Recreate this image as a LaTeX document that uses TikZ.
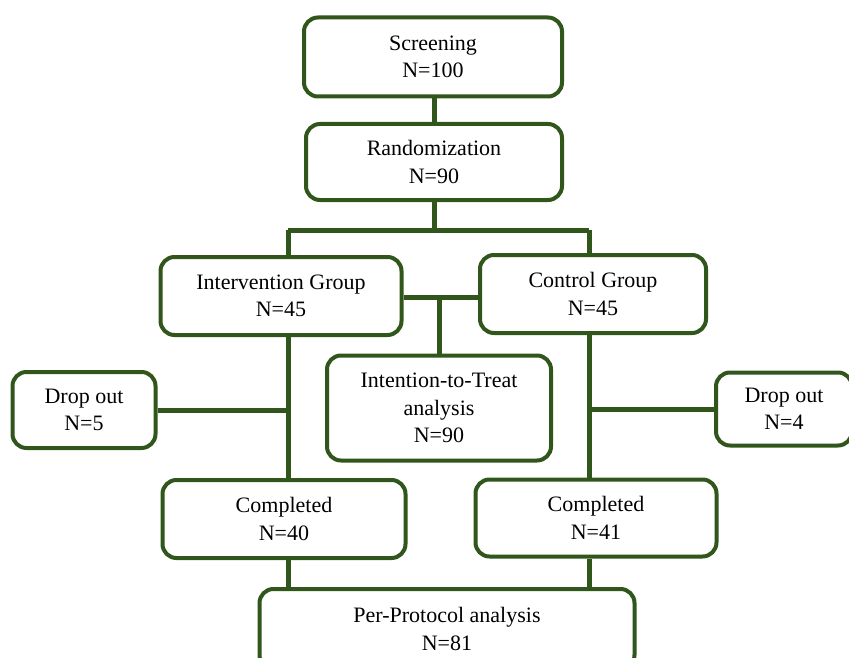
\documentclass[tikz,border=0pt]{standalone}
\usepackage{fontspec}
\setmainfont{Liberation Serif}
\usepackage{tikz}
\definecolor{flowgreen}{RGB}{48,86,28}

\begin{document}
\begin{tikzpicture}[x=1pt, y=-1pt,
		box/.style={draw=flowgreen, line width=4pt, rounded corners=14pt, fill=white, align=center, inner sep=0pt, font=\fontsize{22}{27.5}\selectfont},
		link/.style={draw=flowgreen, line width=5pt}]
		\useasboundingbox (0,0) rectangle (849,658);
		% boxes
		\node[box, minimum width=258, minimum height=79] (screen) at (433,57) {Screening\\N=100};
		\node[box, minimum width=256, minimum height=76] (rand) at (434,162) {Randomization\\N=90};
		\node[box, minimum width=241, minimum height=78] (interv) at (281,296) {Intervention Group\\N=45};
		\node[box, minimum width=226, minimum height=78] (control) at (593,294) {Control Group\\N=45};
		\node[box, minimum width=224, minimum height=105] (itt) at (439,408) {Intention-to-Treat\\analysis\\N=90};
		\node[box, minimum width=143, minimum height=76] (dropL) at (84,410) {Drop out\\N=5};
		\node[box, minimum width=136, minimum height=73] (dropR) at (784,409) {Drop out\\N=4};
		\node[box, minimum width=243, minimum height=78] (compL) at (284,519) {Completed\\N=40};
		\node[box, minimum width=241, minimum height=77] (compR) at (596,518) {Completed\\N=41};
		\node[box, minimum width=375, minimum height=80] (pp) at (447,629) {Per-Protocol analysis\\N=81};
		% connectors
		\coordinate (split) at (434,230);
		\coordinate (bl) at (288,230);
		\coordinate (br) at (589,230);
		\coordinate (mid) at (439,297);
		\draw[link] (screen.south -| rand) -- (rand.north);
		\draw[link] (rand) -- (split);
		\draw[link] (bl) -- (br);
		\foreach \b/\n in {bl/interv, br/control}
			\draw[link] (\b) -- (\b |- \n.north);
		\draw[link] (interv.east |- mid) -- (control.west |- mid);
		\draw[link] (mid) -- (itt.north);
		\foreach \b/\top/\low in {bl/interv/compL, br/control/compR} {
			\draw[link] (\b |- \top.south) -- (\b |- \low.north);
			\draw[link] (\b |- \low.south) -- (\b |- pp.north);
		}
		\draw[link] (dropL.east) -- (bl |- dropL.east);
		\draw[link] (dropR.west) -- (br |- dropR.west);
	\end{tikzpicture}
\end{document}
